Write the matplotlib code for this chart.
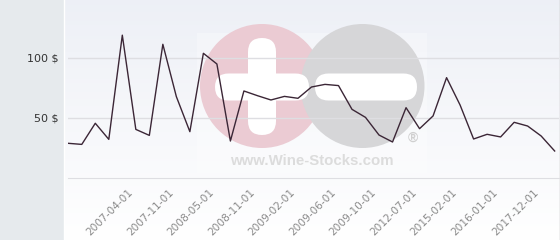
import numpy as np
import matplotlib
matplotlib.use("Agg")
import matplotlib.pyplot as plt
from matplotlib.patches import Circle, FancyBboxPatch, Rectangle
from matplotlib.transforms import ScaledTranslation

# price per sample (one point per listing date, only every 3rd date is labelled)
prices = [28.9, 28.0, 45.6, 32.2, 119.0, 40.5, 35.5, 111.4, 67.8, 38.6,
          103.9, 95.0, 30.8, 72.5, 68.6, 65.0, 68.0, 66.4, 75.8, 78.0,
          77.0, 57.2, 50.5, 35.8, 30.0, 58.6, 41.1, 51.7, 83.6, 60.8,
          32.5, 36.4, 34.2, 46.4, 43.3, 35.0, 22.5]
date_labels = ["2007-04-01", "2007-11-01", "2008-05-01", "2008-11-01",
               "2009-02-01", "2009-06-01", "2009-10-01", "2012-07-01",
               "2015-02-01", "2016-01-01", "2017-12-01"]
label_idx = list(range(4, 35, 3))
y_ticks = [50, 100]

W, H = 560, 240
fig = plt.figure(figsize=(W / 100, H / 100), dpi=100)

# background layer in pixel coordinates
bg = fig.add_axes([0, 0, 1, 1], zorder=0)
bg.set_xlim(0, W)
bg.set_ylim(H, 0)
bg.axis("off")

grad = np.linspace(0, 1, 256).reshape(-1, 1)
top = np.array([0.93, 0.94, 0.965])
bot = np.array([1.0, 1.0, 1.0])
img = top + (bot - top) * grad[..., None]
img = np.repeat(img, 2, axis=1)
bg.imshow(img, extent=(63, W, H, 0), aspect="auto", zorder=0)
bg.add_patch(Rectangle((0, 0), 63, H, color="#e6eaed", zorder=1))
bg.plot([63.5, 63.5], [0, H], color="white", lw=1, zorder=2)
bg.plot([559.5, 559.5], [0, H], color="#b8b8b8", lw=1, zorder=2)

# watermark
bg.add_patch(Rectangle((197, 33), 230, 140, color="white", alpha=0.3, zorder=2, lw=0))
bg.add_patch(Circle((262, 86), 62, color="#ebcbd3", zorder=3, lw=0))
bg.add_patch(Circle((362.5, 86), 62, color="#d6d6d8", zorder=4, lw=0))
bars = [(248, 38, 28, 97), (215, 73.5, 94, 27), (315, 73.5, 102, 27)]
for x0, y0, w, h in bars:
    r = min(w, h) / 2
    bg.add_patch(FancyBboxPatch((x0 + r, y0 + r), w - 2 * r, h - 2 * r,
                                boxstyle=f"round,pad={r},rounding_size={r}",
                                color="white", zorder=5, lw=0))
bg.text(312, 161, "www.Wine-Stocks.com", family="Liberation Sans", weight="bold",
        fontsize=10.8, color="#dcdcdc", ha="center", va="center", zorder=5)
bg.text(413, 138, "®", family="Liberation Sans", weight="bold",
        fontsize=10, color="#d0d0d0", ha="center", va="center", zorder=5)

# main chart
ax = fig.add_axes([68 / W, 62 / H, (559 - 68) / W, 178 / H], zorder=1)
ax.set_facecolor("none")
x = np.arange(len(prices))
ax.plot(x, prices, color="#3b2636", lw=1, zorder=3)
ax.set_xlim(-0.02, (559 - 68.3) / 13.51)
ax.set_ylim(0, 148.3)

ax.set_yticks(y_ticks)
ax.set_yticklabels([f"{v} $" for v in y_ticks], fontsize=8, color="#333333")
ax.yaxis.grid(True, color="#dedee2", lw=1)
ax.tick_params(axis="y", length=0, pad=6.5)

ax.set_xticks(label_idx)
ax.set_xticklabels(date_labels, rotation=45, ha="right", va="center",
                   rotation_mode="anchor", fontsize=7.6, color="#8a8a8a")
ax.tick_params(axis="x", length=0, pad=9)
off = ScaledTranslation(9 / 100, 0, fig.dpi_scale_trans)
for lab in ax.get_xticklabels():
    lab.set_transform(lab.get_transform() + off)

for s in ["top", "right", "left"]:
    ax.spines[s].set_visible(False)
ax.spines["bottom"].set_color("#dedee2")

fig.savefig("out.png", dpi=100)
